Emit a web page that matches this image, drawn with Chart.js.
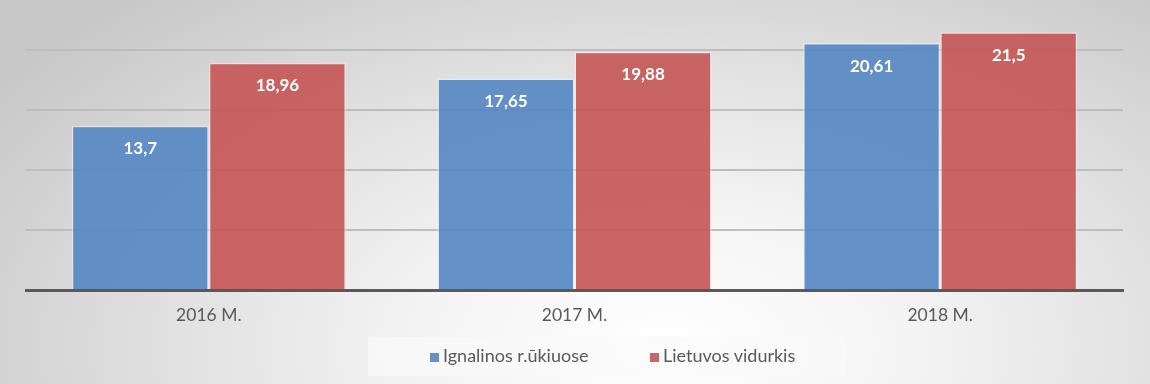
<!DOCTYPE html>
<html>
<head>
<meta charset="utf-8">
<script src="https://cdn.jsdelivr.net/npm/chart.js@4.4.1/dist/chart.umd.min.js"></script>
<style>
html,body{margin:0;padding:0;}
#wrap{position:relative;width:1150px;height:384px;background:radial-gradient(ellipse 70% 120% at 58% 90%, #ffffff 0%, #f4f4f4 30%, #e2e2e2 60%, #c8c8c8 100%);}
#c{position:absolute;left:0;top:0;}
#legend{position:absolute;left:368px;top:337px;width:477px;height:39px;background:rgba(250,250,250,0.75);font-family:Lato,'Open Sans',sans-serif;font-size:18px;color:#595959;}
.item{position:absolute;top:0;height:39px;line-height:37px;white-space:nowrap;}
.sw{display:inline-block;width:9px;height:9px;margin-right:4px;vertical-align:0px;}
</style>
</head>
<body>
<div id="wrap"><canvas id="c" width="1150" height="384"></canvas><div id="legend"></div></div>
<script>
const categories = ["2016 M.", "2017 M.", "2018 M."];
const seriesNames = ["Ignalinos r.ūkiuose", "Lietuvos vidurkis"];
const ignalinaValues = [13.7, 17.65, 20.61];
const lietuvaValues = [18.96, 19.88, 21.5];
const seriesColors = ["rgba(88,136,196,0.92)", "rgba(198,88,88,0.92)"];
const gridStep = 5;

const FONT = "Lato, 'Open Sans', sans-serif";

const labelPlugin = {
  id: 'barLabels',
  afterDatasetsDraw(chart) {
    const ctx = chart.ctx;
    ctx.save();
    ctx.font = "bold 17px " + FONT;
    ctx.fillStyle = "#ffffff";
    ctx.textAlign = "center";
    ctx.textBaseline = "middle";
    chart.data.datasets.forEach((ds, i) => {
      chart.getDatasetMeta(i).data.forEach((bar, j) => {
        const txt = String(ds.data[j]).replace('.', ',');
        ctx.fillText(txt, bar.x, bar.y + 23);
      });
    });
    ctx.restore();
  }
};

const chart = new Chart(document.getElementById('c'), {
  type: 'bar',
  data: {
    labels: categories,
    datasets: [
      {
        label: seriesNames[0],
        data: ignalinaValues,
        backgroundColor: seriesColors[0],
        borderColor: "rgba(235,240,250,0.55)",
        borderWidth: 1.5
      },
      {
        label: seriesNames[1],
        data: lietuvaValues,
        backgroundColor: seriesColors[1],
        borderColor: "rgba(250,235,235,0.55)",
        borderWidth: 1.5
      }
    ]
  },
  options: {
    responsive: false,
    animation: false,
    devicePixelRatio: 1,
    layout: { padding: { left: 26, right: 27, top: 0, bottom: 51 } },
    datasets: { bar: { categoryPercentage: 0.75, barPercentage: 1.0 } },
    scales: {
      x: {
        grid: { display: false },
        border: { display: true, color: "#595959", width: 3 },
        ticks: { color: "#595959", font: { family: FONT, size: 17.5 }, padding: 7 }
      },
      y: {
        min: 0,
        max: 24.2,
        ticks: { display: false, stepSize: gridStep },
        border: { display: false },
        grid: {
          color: (c) => (c.tick && c.tick.value % gridStep === 0 && c.tick.value !== 0) ? "#bdbdbd" : "transparent",
          lineWidth: 2,
          drawTicks: false
        }
      }
    },
    plugins: {
      legend: { display: false },
      tooltip: { enabled: false }
    }
  },
  plugins: [labelPlugin]
});

// legend built from the chart's datasets
const legendEl = document.getElementById('legend');
const itemLefts = [62, 282];
chart.data.datasets.forEach((ds, i) => {
  const it = document.createElement('div');
  it.className = 'item';
  it.style.left = itemLefts[i] + 'px';
  const sw = document.createElement('span');
  sw.className = 'sw';
  sw.style.background = ds.backgroundColor;
  it.appendChild(sw);
  it.appendChild(document.createTextNode(ds.label));
  legendEl.appendChild(it);
});
</script>
</body>
</html>
